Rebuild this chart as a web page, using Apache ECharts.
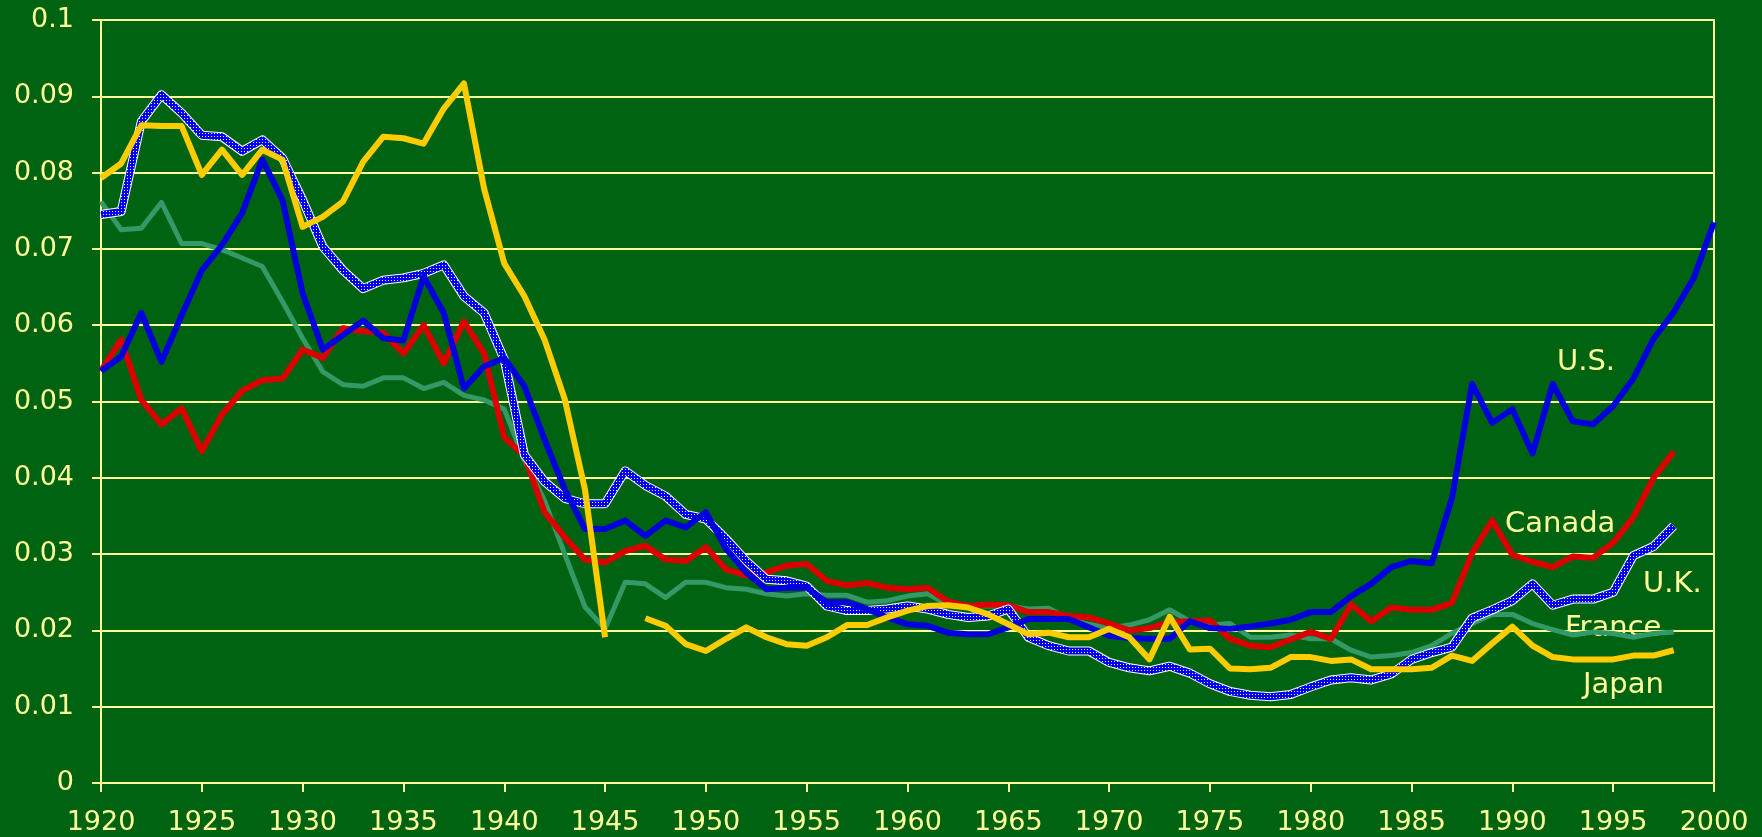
<!DOCTYPE html>
<html>
<head>
<meta charset="utf-8">
<script src="https://cdn.jsdelivr.net/npm/echarts@6/dist/echarts.min.js"></script>
<style>
    html, body {
        margin: 0;
        padding: 0;
        background: #006312;
    }
    #chart {
        width: 1762px;
        height: 837px;
    }
</style>
</head>
<body>
<div id="chart"></div>
<script>
    // years on the x axis, 1920..2000
    const years = []
    for (let y = 1920; y <= 2000; y++) years.push(String(y))

    const usData = [
        0.054, 0.0559, 0.0616, 0.0552, 0.0613, 0.0672, 0.0705, 0.0747, 0.0817, 0.0764,
        0.0642, 0.0568, 0.0587, 0.0606, 0.0583, 0.058, 0.0664, 0.0616, 0.0517, 0.0546,
        0.0557, 0.052, 0.045, 0.0385, 0.0333, 0.0333, 0.0344, 0.0324, 0.0344, 0.0335,
        0.0355, 0.0307, 0.0276, 0.0254, 0.0256, 0.0256, 0.0237, 0.0237, 0.0228, 0.0217,
        0.0208, 0.0206, 0.0197, 0.0195, 0.0195, 0.0204, 0.0215, 0.0215, 0.0215, 0.0204,
        0.0193, 0.019, 0.0189, 0.0189, 0.0212, 0.0203, 0.0202, 0.0205, 0.0209, 0.0214,
        0.0224, 0.0224, 0.0245, 0.0261, 0.0283, 0.0291, 0.0288, 0.0373, 0.0523, 0.0472,
        0.049, 0.0432, 0.0523, 0.0474, 0.047, 0.0494, 0.053, 0.0582, 0.0617, 0.0662,
        0.0735
    ]
    const canadaData = [
        0.054, 0.0581, 0.0502, 0.047, 0.0491, 0.0435, 0.0483, 0.0514, 0.0528, 0.053,
        0.0568, 0.0557, 0.0596, 0.0592, 0.059, 0.0563, 0.06, 0.055, 0.0605, 0.0563,
        0.0453, 0.0429, 0.0355, 0.0322, 0.0293, 0.0289, 0.0304, 0.0311, 0.0293, 0.0291,
        0.0309, 0.028, 0.0272, 0.0276, 0.0285, 0.0287, 0.0265, 0.0259, 0.0262, 0.0256,
        0.0254, 0.0256, 0.0238, 0.0232, 0.0234, 0.0233, 0.0224, 0.0224, 0.0219, 0.0217,
        0.0209, 0.02, 0.0203, 0.0211, 0.0212, 0.0213, 0.0189, 0.018, 0.0178, 0.0188,
        0.0198, 0.0189, 0.0234, 0.0212, 0.023, 0.0227, 0.0227, 0.0236, 0.0301, 0.0344,
        0.0299, 0.029, 0.0283, 0.0297, 0.0295, 0.0315, 0.0348, 0.04, 0.0434
    ]
    const ukData = [
        0.0745, 0.0749, 0.0867, 0.0902, 0.0878, 0.0849, 0.0847, 0.0828, 0.0843, 0.0819,
        0.0764, 0.0703, 0.0672, 0.0648, 0.0659, 0.0662, 0.0668, 0.0679, 0.0638, 0.0616,
        0.0555, 0.043, 0.0395, 0.0373, 0.0366, 0.0366, 0.0409, 0.039, 0.0376, 0.0352,
        0.0346, 0.032, 0.0291, 0.0267, 0.0265, 0.0258, 0.0232, 0.0226, 0.0226, 0.0228,
        0.0232, 0.0228, 0.0221, 0.0217, 0.0219, 0.0228, 0.0191, 0.018, 0.0173, 0.0173,
        0.0158, 0.0151, 0.0147, 0.0153, 0.0144, 0.013, 0.012, 0.0115, 0.0113, 0.0116,
        0.0126, 0.0135, 0.0138, 0.0135, 0.0143, 0.0162, 0.0171, 0.0178, 0.0216, 0.0227,
        0.0239, 0.0261, 0.0233, 0.0241, 0.0241, 0.025, 0.0298, 0.031, 0.0337
    ]
    const franceData = [
        0.0762, 0.0725, 0.0727, 0.0761, 0.0707, 0.0707, 0.0699, 0.0688, 0.0677, 0.0631,
        0.0583, 0.0539, 0.0522, 0.052, 0.0531, 0.0531, 0.0517, 0.0525, 0.0508, 0.0502,
        0.049, 0.0423, 0.037, 0.03, 0.0231, 0.0202, 0.0263, 0.0261, 0.0243, 0.0263,
        0.0263, 0.0256, 0.0254, 0.0248, 0.0245, 0.0248, 0.0246, 0.0246, 0.0237, 0.0239,
        0.0245, 0.0248, 0.0234, 0.0232, 0.0232, 0.0232, 0.0228, 0.0229, 0.0215, 0.0208,
        0.0203, 0.0207, 0.0214, 0.0227, 0.0212, 0.0207, 0.0209, 0.0191, 0.0191, 0.0194,
        0.0189, 0.0189, 0.0174, 0.0165, 0.0167, 0.0171, 0.018, 0.0196, 0.0209, 0.0221,
        0.0221, 0.0209, 0.0201, 0.0194, 0.0198, 0.0196, 0.0191, 0.0196, 0.0198
    ]
    // 1946 missing for Japan
    const japanData = [
        0.0793, 0.0812, 0.0862, 0.0861, 0.0861, 0.0797, 0.083, 0.0797, 0.083, 0.0817,
        0.0729, 0.0742, 0.0762, 0.0814, 0.0847, 0.0845, 0.0838, 0.0884, 0.0917, 0.0779,
        0.0681, 0.0638, 0.0581, 0.0503, 0.0385, 0.0191, null, 0.0216, 0.0206, 0.0182,
        0.0173, 0.0189, 0.0204, 0.0191, 0.0182, 0.018, 0.0191, 0.0207, 0.0207, 0.0217,
        0.0226, 0.0232, 0.0233, 0.023, 0.0221, 0.0208, 0.0195, 0.0197, 0.0191, 0.0191,
        0.0202, 0.0191, 0.0162, 0.0218, 0.0175, 0.0176, 0.015, 0.0149, 0.0151, 0.0165,
        0.0165, 0.016, 0.0162, 0.0149, 0.0149, 0.0149, 0.0151, 0.0167, 0.016, 0.0183,
        0.0205, 0.018, 0.0165, 0.0162, 0.0162, 0.0162, 0.0167, 0.0167, 0.0174
    ]

    const yellow = '#FFFF99'
    const font = '"DejaVu Sans", Arial, sans-serif'

    // blue + white dots texture for the U.K. line
    const tile = document.createElement('canvas')
    tile.width = 3
    tile.height = 3
    const tctx = tile.getContext('2d')
    tctx.fillStyle = '#0000EE'
    tctx.fillRect(0, 0, 3, 3)
    tctx.fillStyle = '#FFFFFF'
    tctx.fillRect(1, 1, 1, 1)

    function plainLine(name, data, color, width) {
        return {
            name: name,
            type: 'line',
            data: data,
            symbol: 'none',
            connectNulls: false,
            silent: true,
            lineStyle: {color: color, width: width, cap: 'butt', join: 'round'}
        }
    }

    // country names next to the lines
    function nameLabel(text, x, y) {
        return {
            type: 'text', x: x, y: y,
            style: {text: text, fill: yellow, font: '29px ' + font, verticalAlign: 'middle'}
        }
    }

    const myChart = echarts.init(document.getElementById('chart'))
    myChart.setOption({
        backgroundColor: '#006312',
        animation: false,
        grid: {
            left: 101,
            right: 48,
            top: 20,
            bottom: 54,
            show: true,
            borderColor: yellow,
            borderWidth: 2
        },
        xAxis: {
            type: 'category',
            data: years,
            boundaryGap: false,
            axisLine: {lineStyle: {color: yellow, width: 2}},
            axisTick: {interval: 4, length: 9, lineStyle: {color: yellow, width: 2}},
            axisLabel: {interval: 4, color: yellow, fontSize: 27, fontFamily: font, margin: 26},
            splitLine: {show: false}
        },
        yAxis: {
            type: 'value',
            min: 0,
            max: 0.1,
            interval: 0.01,
            axisLine: {show: true, lineStyle: {color: yellow, width: 2}},
            axisTick: {show: true, length: 9, lineStyle: {color: yellow, width: 2}},
            axisLabel: {color: yellow, fontSize: 27, fontFamily: font, margin: 27},
            splitLine: {lineStyle: {color: yellow, width: 2}}
        },
        series: [
            plainLine('France', franceData, '#339966', 5),
            plainLine('Canada', canadaData, '#DD0000', 6),
            plainLine('U.K. edge', ukData, '#FFFFFF', 9),
            plainLine('U.K.', ukData, {image: tile, repeat: 'repeat'}, 7),
            plainLine('U.S.', usData, '#0000DD', 6),
            plainLine('Japan', japanData, '#FFCC00', 6)
        ],
        graphic: [
            nameLabel('U.S.', 1557, 362),
            nameLabel('Canada', 1505, 524),
            nameLabel('U.K.', 1643, 584),
            nameLabel('France', 1565, 628),
            nameLabel('Japan', 1583, 685)
        ]
    })
</script>
</body>
</html>
